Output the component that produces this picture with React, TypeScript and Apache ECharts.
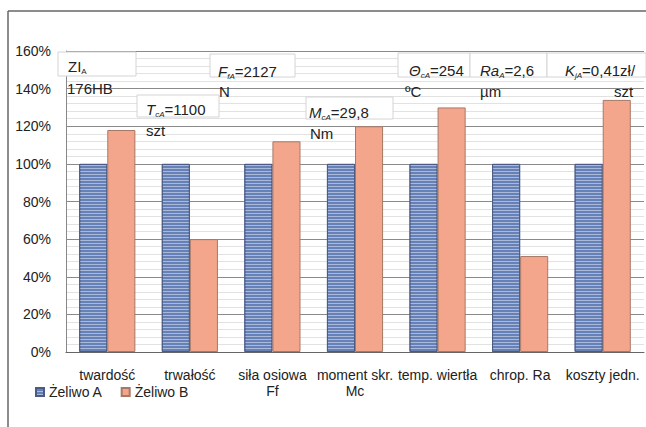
import React, { useEffect, useRef } from 'react';
import * as echarts from 'echarts';

const categories = ['twardość', 'trwałość', 'siła osiowa\nFf', 'moment skr.\nMc', 'temp. wiertła', 'chrop. Ra', 'koszty jedn.'];
const seriesNames = ['Żeliwo A', 'Żeliwo B'];
const seriesA = [100, 100, 100, 100, 100, 100, 100];
const seriesB = [118, 60, 112, 120, 130, 51, 134];
const yMin = 0;
const yMax = 160;
const yStep = 20;

const noteSymbols = ['ZI', 'T', 'F', 'M', 'Θ', 'Ra', 'K'];
const noteItalic = [false, true, true, true, true, true, true];
const noteSubs = ['A', 'cA', 'fA', 'cA', 'cA', 'A', 'jA'];
const noteValues = ['', '=1100', '=2127', '=29,8', '=254', '=2,6', '=0,41zł/'];
const noteUnits = ['176HB', 'szt', 'N', 'Nm', 'ºC', 'µm', 'szt'];

// layout of annotation boxes: [boxX, boxY, boxW, boxH, textX, textY, unitX, unitY]
const noteLayout = [
  [58, 52, 78, 24, 68, 66, 67, 88],
  [137, 95, 82, 22, 146, 109, 146, 130],
  [210, 54, 85, 23, 218, 71, 219, 91],
  [306, 97, 87, 22, 309, 112, 310, 133],
  [398, 53, 72, 24, 409, 70, 405, 91],
  [470, 53, 77, 24, 480, 70, 480, 91],
  [547, 53, 99, 24, 565, 70, 614, 91],
];

const FONT = '"Liberation Sans", Arial, sans-serif';
const TXT = '#222';
const NOTE_FS = 15;

export default function App() {
  const ref = useRef<HTMLDivElement>(null);
  useEffect(() => {
    if (!ref.current) return;
    const chart = echarts.init(ref.current, null, { renderer: 'svg' });

    const graphics: any[] = [
      { type: 'line', shape: { x1: 8, y1: 11, x2: 646, y2: 11 }, style: { stroke: '#666', lineWidth: 1.5 }, z: 50 },
      { type: 'line', shape: { x1: 8, y1: 11, x2: 8, y2: 427 }, style: { stroke: '#666', lineWidth: 1.5 }, z: 50 },
    ];
    noteSymbols.forEach((sym, i) => {
      const [bx, by, bw, bh, tx, ty, ux, uy] = noteLayout[i];
      graphics.push({
        type: 'rect', shape: { x: bx, y: by, width: bw, height: bh },
        style: { fill: '#fff', stroke: '#d4d4d4', lineWidth: 1 }, z: 100,
      });
      graphics.push({
        type: 'text', x: tx, y: ty, z: 101,
        style: {
          text: `{m|${sym}}{s|${noteSubs[i]}}` + (noteValues[i] ? `{n|${noteValues[i]}}` : ''),
          verticalAlign: 'middle',
          rich: {
            m: { fontFamily: FONT, fontSize: NOTE_FS, fontStyle: noteItalic[i] ? 'italic' : 'normal', fill: TXT },
            s: { fontFamily: FONT, fontSize: 8, fontStyle: noteItalic[i] ? 'italic' : 'normal', fill: TXT, padding: [10, 0, 0, 0] },
            n: { fontFamily: FONT, fontSize: NOTE_FS, fill: TXT },
          },
        },
      });
      graphics.push({
        type: 'text', x: ux, y: uy, z: 101,
        style: { text: noteUnits[i], fontFamily: FONT, fontSize: NOTE_FS, fill: TXT, verticalAlign: 'middle' },
      });
    });

    chart.setOption({
      animation: false,
      backgroundColor: '#fff',
      grid: { left: 66, right: 2, top: 51, bottom: 75, containLabel: false },
      legend: {
        left: 30, top: 380, itemWidth: 8, itemHeight: 8, itemGap: 18,
        icon: 'rect',
        textStyle: { fontFamily: FONT, fontSize: 14, color: TXT },
        data: seriesNames,
      },
      xAxis: {
        type: 'category', data: categories,
        axisLine: { lineStyle: { color: '#666', width: 1 } },
        axisTick: { show: false },
        axisLabel: { interval: 0, fontFamily: FONT, fontSize: 14, color: TXT, margin: 15, lineHeight: 16 },
      },
      yAxis: {
        type: 'value', min: yMin, max: yMax, interval: yStep,
        axisLine: { show: true, lineStyle: { color: '#888' } },
        axisTick: { show: false },
        axisLabel: { formatter: '{value}%', fontFamily: FONT, fontSize: 14, color: TXT, margin: 15 },
        splitLine: { lineStyle: { color: '#8a8a8a', width: 1 } },
        minorTick: { show: false, splitNumber: 5 },
        minorSplitLine: { show: true, lineStyle: { color: '#e2e2e2', width: 1 } },
      },
      series: [
        {
          name: seriesNames[0], type: 'bar', data: seriesA, barGap: '0%', barCategoryGap: '32%',
          itemStyle: {
            color: '#6680b8', borderColor: '#4b5b84', borderWidth: 1,
            decal: { symbol: 'rect', symbolSize: 1, dashArrayX: [1, 0], dashArrayY: [1, 2], rotation: 0, color: 'rgba(255,255,255,0.45)' },
          },
        },
        {
          name: seriesNames[1], type: 'bar', data: seriesB,
          itemStyle: { color: '#f4a68c', borderColor: '#a77866', borderWidth: 1 },
        },
      ],
      graphic: graphics,
    });
    return () => chart.dispose();
  }, []);
  return <div ref={ref} style={{ position: 'fixed', left: 0, top: 0, width: 646, height: 427 }} />;
}
